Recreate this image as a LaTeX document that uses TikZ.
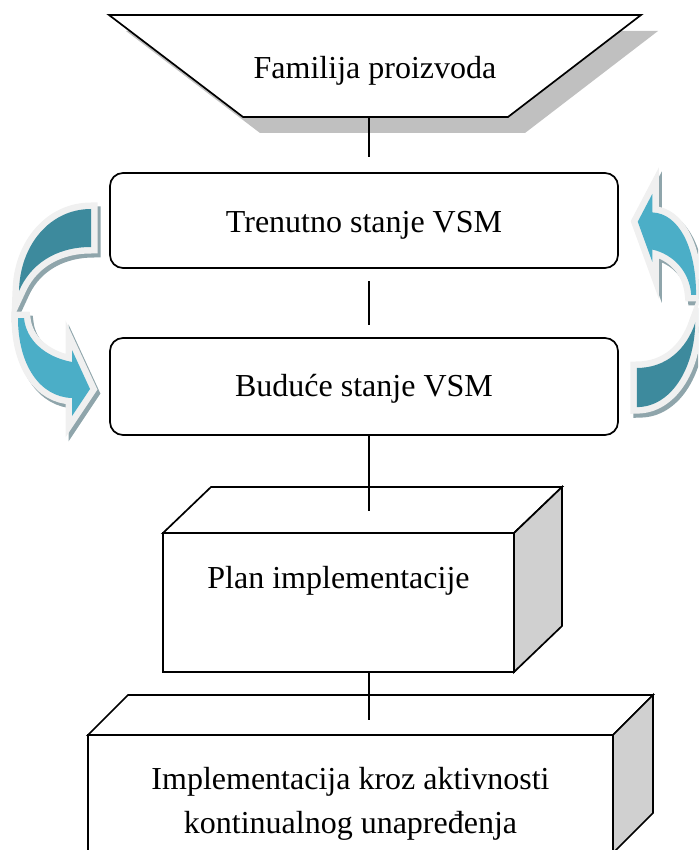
\documentclass[tikz,border=0pt]{standalone}
\usepackage{fontspec}
\setmainfont{Liberation Serif}
\definecolor{tealdark}{RGB}{61,138,157}
\definecolor{teallight}{RGB}{75,174,199}
\definecolor{arrowrim}{RGB}{240,240,240}
\definecolor{arrowshadow}{RGB}{143,165,171}
\definecolor{sidegray}{RGB}{208,208,208}
\definecolor{shadegray}{RGB}{192,192,192}
\begin{document}
\begin{tikzpicture}[x=1pt,y=-1pt,
  lbl/.style={font=\fontsize{32}{44}\selectfont, anchor=base, inner sep=0pt},
  edge/.style={line width=1.7pt},
  panel/.style={draw, line width=1.7pt, fill=white, line join=miter},
  rbox/.style={draw, line width=1.7pt, rounded corners=13pt, minimum width=508pt, inner sep=0pt, outer sep=0pt, fill=white},
  frontface/.style={draw, line width=1.7pt, fill=white, inner sep=0pt, outer sep=0pt},
  rimlayer/.style={draw=arrowrim, line width=13pt, line join=miter},
  shadowlayer/.style={draw=arrowshadow, fill=arrowshadow, line width=13pt, line join=miter},
  pics/bandback/.style={code={
    \path[pic actions] (91,209) .. controls (50,209) and (20,245) .. (19,291)
      .. controls (30,265) and (55,247) .. (91,247) -- cycle;}},
  pics/bandfront/.style={code={
    \path[pic actions] (18,318) .. controls (18,365) and (40,397) .. (72,398)
      -- (72,416) -- (90,389) -- (72,350) -- (72,362)
      .. controls (45,357) and (26,340) .. (24,318) -- cycle;}},
  pics/trapshape/.style={code={
    \path[pic actions] (109,15) -- (641,15) -- (508,117) -- (243,117) -- cycle;}},
  rightarrow/.style={shift={(666.5,301)}, xscale=-0.81, yscale=-1.03, shift={(-54.5,-312)}}
]
\useasboundingbox (0,0) rectangle (698,850);
\clip (0,0) rectangle (698,850);

% ---------- curved arrows ----------
\pic[shift={(3,4)}, shadowlayer] {bandback};
\pic[shift={(3,4)}, shadowlayer] {bandfront};
\pic[shift={(3,4)}, rightarrow, shadowlayer] {bandback};
\pic[shift={(3,4)}, rightarrow, shadowlayer] {bandfront};
\pic[rimlayer] {bandback};
\pic[rimlayer] {bandfront};
\pic[rightarrow, rimlayer] {bandback};
\pic[rightarrow, rimlayer] {bandfront};
\pic[fill=tealdark] {bandback};
\pic[fill=teallight] {bandfront};
\pic[rightarrow, fill=tealdark] {bandback};
\pic[rightarrow, fill=teallight] {bandfront};

% ---------- trapezoid ----------
\pic[shift={(17,16)}, fill=shadegray] {trapshape};
\pic[panel] {trapshape};
\node[lbl] (famt) at (375,79) {Familija proizvoda};

% ---------- rounded boxes ----------
\node[rbox, minimum height=95pt] (cur) at (364,220.5) {};
\node[lbl] (curt) at (364,233) {Trenutno stanje VSM};
\node[rbox, minimum height=97pt] (fut) at (364,386.5) {};
\node[lbl] (futt) at (364,396) {Buduće stanje VSM};

% ---------- box 1 ----------
\node[frontface, minimum width=351pt, minimum height=139pt] (plan) at (338.5,602.5) {};
\draw[panel] (plan.north west) -- ++(48,-46) -- ++(351,0) -- (plan.north east) -- cycle;
\draw[panel, fill=sidegray] (plan.north east) -- ++(48,-46) -- ++(0,139) -- (plan.south east) -- cycle;
\node[lbl] (plant) at (338.5,588) {Plan implementacije};

% ---------- box 2 ----------
\node[frontface, minimum width=525pt, minimum height=118pt] (impl) at (350.5,794) {};
\draw[panel] (impl.north west) -- ++(40,-40) -- ++(525,0) -- (impl.north east) -- cycle;
\draw[panel, fill=sidegray] (impl.north east) -- ++(40,-40) -- ++(0,118) -- (impl.south east) -- cycle;
\node[lbl] (implt1) at (350.5,789) {Implementacija kroz aktivnosti};
\node[lbl] (implt2) at (350.5,833) {kontinualnog unapređenja};

% ---------- connectors ----------
\coordinate (c1a) at (369,117);
\coordinate (c1b) at (369,157);
\coordinate (c2a) at (369,281);
\coordinate (c2b) at (369,325);
\coordinate (c3a) at (369,435);
\coordinate (c3b) at (369,511);
\coordinate (c4a) at (369,672);
\coordinate (c4b) at (369,720);
\draw[edge] (c1a) -- (c1b);
\draw[edge] (c2a) -- (c2b);
\draw[edge] (c3a) -- (c3b);
\draw[edge] (c4a) -- (c4b);
\end{tikzpicture}
\end{document}
